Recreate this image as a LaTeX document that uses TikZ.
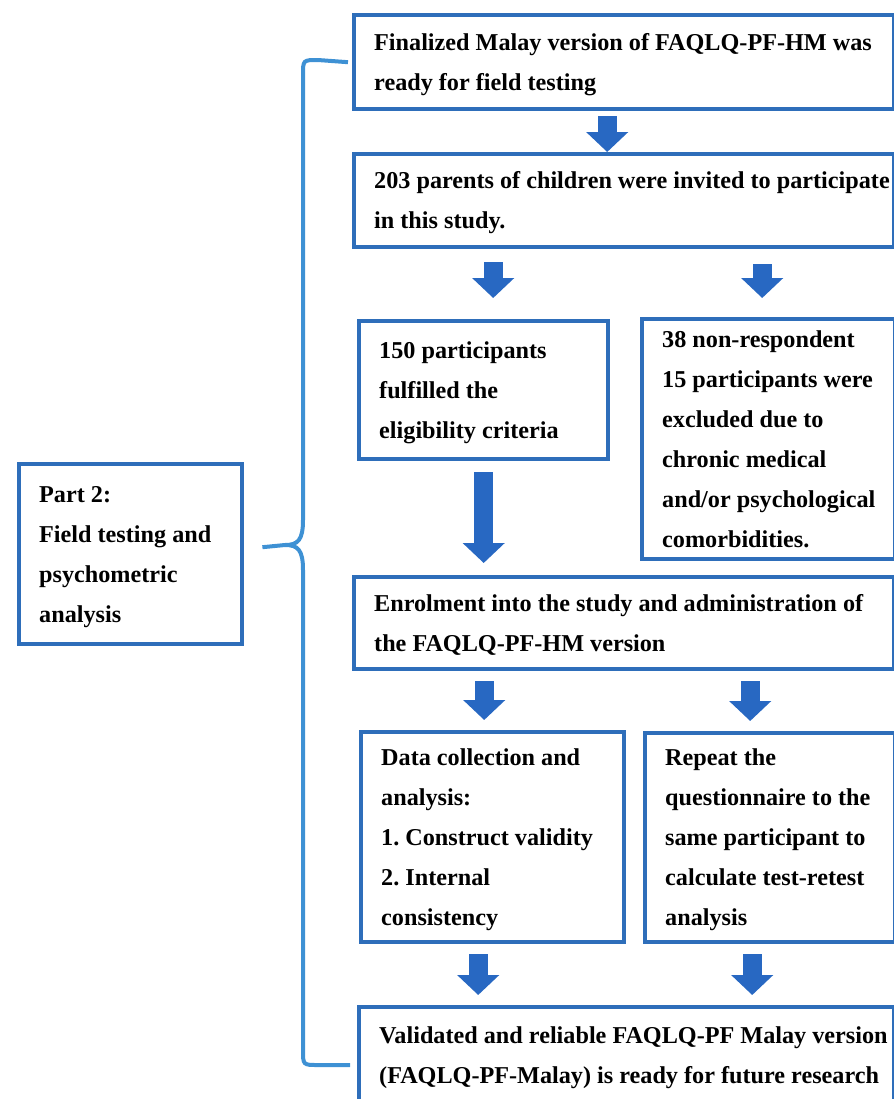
\documentclass[tikz,border=0pt]{standalone}
\usepackage{fontspec}
\setmainfont{Liberation Serif}
\usetikzlibrary{positioning,calc,arrows.meta}
\definecolor{boxblue}{RGB}{46,110,186}
\definecolor{braceblue}{RGB}{62,145,212}
\definecolor{arrowblue}{RGB}{40,104,194}
% fixed-width block of hand-broken lines; a long line may run into the padding
\newcommand{\boxlines}[2]{\makebox[#1][l]{\begin{tabular}{@{}l@{}}#2\end{tabular}}}

\begin{document}
\begin{tikzpicture}[x=0.5pt,y=-0.5pt,
    box/.style={draw=boxblue,line width=2.2pt,fill=white,anchor=north west,
        inner xsep=10pt,inner ysep=0pt,
        font=\fontsize{12.1pt}{20pt}\selectfont\bfseries\frenchspacing},
    blockarr/.style={draw=arrowblue,line width=9.5pt,-{Triangle[length=10pt,width=20.5pt]}},
    brace/.style={draw=braceblue,line width=2pt}]
    \useasboundingbox (0,0) rectangle (894,1099);
    \clip (0,0) rectangle (894,1099);

    % right column of steps
    \node[box,minimum height=47pt] (final) at (352,13)
        {\boxlines{250pt}{Finalized Malay version of FAQLQ-PF-HM was\\ ready for field testing}};
    \node[box,minimum height=46.5pt] (invite) at (352,152)
        {\boxlines{250pt}{203 parents of children were invited to participate\\ in this study.}};
    \node[box,minimum height=69pt] (eligible) at (357,319)
        {\boxlines{104.5pt}{150 participants\\ fulfilled the\\ eligibility criteria}};
    \node[box,minimum height=119.5pt] (excluded) at (640,317)
        {\boxlines{106.5pt}{38 non-respondent\\ 15 participants were\\ excluded due to\\ chronic medical\\ and/or psychological\\ comorbidities.}};
    \node[box,minimum height=46pt] (enrol) at (352,575)
        {\boxlines{250pt}{Enrolment into the study and administration of\\ the FAQLQ-PF-HM version}};
    \node[box,minimum height=105pt] (collect) at (359,730)
        {\boxlines{111.5pt}{Data collection and\\ analysis:\\ 1. Construct validity\\ 2. Internal\\ consistency}};
    \node[box,minimum height=104.5pt] (retest) at (643,731)
        {\boxlines{105pt}{Repeat the\\ questionnaire to the\\ same participant to\\ calculate test-retest\\ analysis}};
    \node[box,minimum height=48pt] (valid) at (357,1005)
        {\boxlines{247.5pt}{Validated and reliable FAQLQ-PF Malay version\\ (FAQLQ-PF-Malay) is ready for future research}};

    % part label
    \node[box,minimum height=90pt] (part) at (17,462)
        {\boxlines{91.5pt}{Part 2:\\ Field testing and\\ psychometric\\ analysis}};

    % block arrows
    \draw[blockarr] ($(final.south)+(-8.5pt,-2.5pt)$) -- ($(invite.north)+(-8.5pt,0)$);
    \draw[blockarr] ($(eligible.north |- invite.south)+(4.75pt,-6.5pt)$) -- ($(eligible.north)+(4.75pt,10.5pt)$);
    \draw[blockarr] ($(excluded.north |- invite.south)+(-3.25pt,-7.5pt)$) -- ($(excluded.north)+(-3.25pt,9.5pt)$);
    \draw[blockarr] ($(eligible.south)+(0,-5.5pt)$) -- ($(enrol.north -| eligible.south)+(0,6pt)$);
    \draw[blockarr] ($(collect.north |- enrol.south)+(-4.25pt,-5pt)$) -- ($(collect.north)+(-4.25pt,5pt)$);
    \draw[blockarr] ($(retest.north |- enrol.south)+(-10pt,-5pt)$) -- ($(retest.north)+(-10pt,5pt)$);
    \draw[blockarr] ($(collect.south)+(-7.25pt,-5pt)$) -- ($(valid.north -| collect.south)+(-7.25pt,5pt)$);
    \draw[blockarr] ($(retest.south)+(-9pt,-5pt)$) -- ($(valid.north -| retest.south)+(-9pt,5pt)$);

    % brace
    \coordinate (tip) at ($(part.east)+(9pt,3.5pt)$);
    \draw[brace] ($(final.west)+(-2pt,0)$) -- (318,60) .. controls (303,60) .. (303,75)
        -- (303,520) .. controls (303,540) and (298,545) .. (285,545) -- (tip)
        -- (285,545) .. controls (298,545) and (303,550) .. (303,570)
        -- (303,1050) .. controls (303,1065) .. (318,1065)
        -- ($(valid.north west)+(-3.5pt,-30pt)$);
\end{tikzpicture}
\end{document}
